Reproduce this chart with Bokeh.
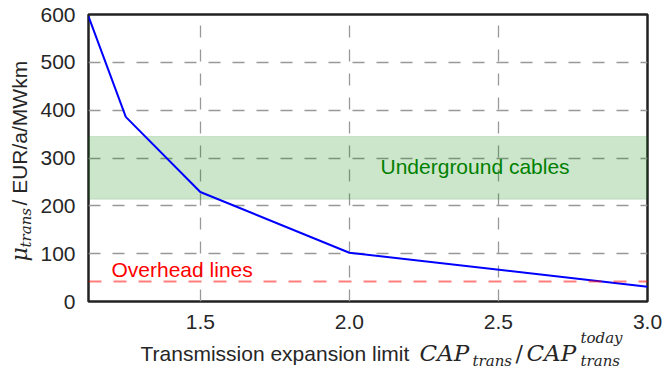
import math
from bokeh.plotting import figure
from bokeh.models import Range1d, FixedTicker, BoxAnnotation, Label, Span
from bokeh.embed import file_html
from bokeh.resources import INLINE

# ---- data ----
limit = [1.125, 1.25, 1.5, 2.0, 3.0]
mu_trans = [596, 386, 229, 102, 31]
underground_low, underground_high = 214, 345
overhead_cost = 42
x_ticks = [1.5, 2.0, 2.5, 3.0]
x_tick_labels = ["1.5", "2.0", "2.5", "3.0"]
y_ticks = [0, 100, 200, 300, 400, 500, 600]

# ---- layout ----
W, H = 663, 372
FL, FR, FT, FB = 88, 647, 14, 301
X0, X1 = 1.125, 3.0
Y0, Y1 = 0, 600
SANS = "Liberation Sans"
SERIF = "DejaVu Serif"
TXT = "#262626"
FIX = 0.38  # baseline correction (fraction of font size)

def dx(sx):
    return X0 + (sx - FL) * (X1 - X0) / (FR - FL)

def dy(sy):
    return Y0 + (FB - sy) * (Y1 - Y0) / (FB - FT)

p = figure(width=W, height=H, output_backend="svg", toolbar_location=None,
           x_range=Range1d(X0, X1), y_range=Range1d(Y0, Y1),
           min_border_left=FL, min_border_right=W - FR,
           min_border_top=FT, min_border_bottom=H - FB,
           styles={"position": "absolute", "top": "0px", "left": "0px"})
p.background_fill_color = "white"
p.border_fill_color = "white"
p.outline_line_color = "#222222"
p.outline_line_width = 2.5

p.xaxis.ticker = FixedTicker(ticks=x_ticks)
p.xaxis.major_label_overrides = {t: s for t, s in zip(x_ticks, x_tick_labels)}
p.yaxis.ticker = FixedTicker(ticks=y_ticks)
for ax in (p.xaxis, p.yaxis):
    ax.axis_line_color = None
    ax.major_tick_line_color = None
    ax.minor_tick_line_color = None
    ax.major_label_text_font = SANS
    ax.major_label_text_font_size = "21px"
    ax.major_label_text_color = TXT
    ax.major_label_standoff = 7

for g in (p.xgrid, p.ygrid):
    g.grid_line_color = "#999999"
    g.grid_line_dash = "12 12"
    g.grid_line_width = 1.3

band = BoxAnnotation(bottom=underground_low, top=underground_high,
                     fill_color="green", fill_alpha=0.2,
                     line_color="green", line_alpha=0.15, line_width=1,
                     level="underlay")
p.add_layout(band)

p.add_layout(Span(location=overhead_cost, dimension="width", line_color="red",
                  line_alpha=0.5, line_width=2, line_dash="13 12"))

p.line(limit, mu_trans, line_color="blue", line_width=2)

p.add_layout(Label(x=dx(380), y=dy(174 - 8), text="Underground cables",
                   text_color="green", text_font=SANS, text_font_size="21px",
                   text_baseline="alphabetic"))
p.add_layout(Label(x=dx(111), y=dy(277 - 8), text="Overhead lines",
                   text_color="red", text_font=SANS, text_font_size="21px",
                   text_baseline="alphabetic"))

# ---- transparent overlay carrying the axis titles (pixel coordinates) ----
ov = figure(width=W, height=H, output_backend="svg", toolbar_location=None,
            x_range=Range1d(0, W), y_range=Range1d(H, 0),
            x_axis_type=None, y_axis_type=None,
            min_border_left=0, min_border_right=0,
            min_border_top=0, min_border_bottom=0,
            styles={"position": "absolute", "top": "0px", "left": "0px"})
ov.background_fill_alpha = 0
ov.border_fill_alpha = 0
ov.outline_line_color = None
ov.xgrid.visible = False
ov.ygrid.visible = False

def lab(sx, sy, text, font, size, style="normal", angle=0.0):
    fix = FIX * size
    if angle:
        sx -= fix
    else:
        sy -= fix
    ov.add_layout(Label(x=sx, y=sy, text=text, text_font=font,
                        text_font_size=f"{size}px", text_font_style=style,
                        text_color=TXT, text_baseline="alphabetic",
                        text_align="left", angle=angle))

# x axis title
lab(140, 361, "Transmission expansion limit", SANS, 21)
lab(419, 361, "CAP", SERIF, 23, "italic")
lab(472, 366, "trans", SERIF, 15, "italic")
lab(515, 361, "/", SERIF, 22)
lab(526, 361, "CAP", SERIF, 23, "italic")
lab(580, 343, "today", SERIF, 15, "italic")
lab(580, 366, "trans", SERIF, 15, "italic")

# y axis title (rotated)
A = math.pi / 2
lab(27, 261, "μ", SERIF, 22, "italic", A)
lab(31, 247, "trans", SERIF, 15, "italic", A)
lab(27, 205, "/ EUR/a/MWkm", SANS, 21, "normal", A)

open("out.html", "w").write(file_html([p, ov], INLINE))
